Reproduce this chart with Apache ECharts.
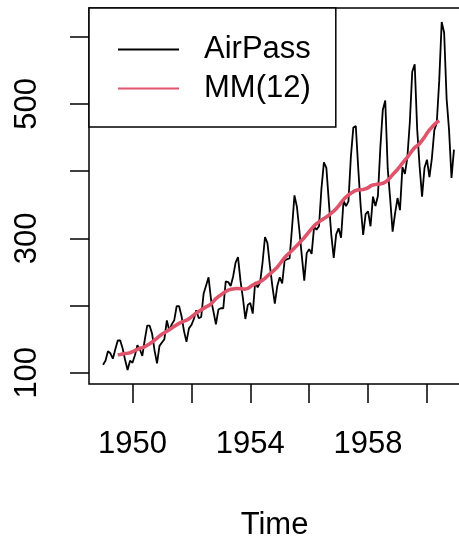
<!DOCTYPE html>
<html>
<head>
<meta charset="utf-8">
<script src="https://cdn.jsdelivr.net/npm/echarts@6/dist/echarts.min.js"></script>
<style>
  html, body { margin: 0; padding: 0; background: #fff; }
  #chart { width: 459px; height: 544px; }
</style>
</head>
<body>
<div id="chart"></div>
<script>
// Monthly airline passengers (thousands), Jan 1949 – Dec 1960
const startYear = 1949;
const airPass = [
  112, 118, 132, 129, 121, 135, 148, 148, 136, 119, 104, 118,
  115, 126, 141, 135, 125, 149, 170, 170, 158, 133, 114, 140,
  145, 150, 178, 163, 172, 178, 199, 199, 184, 162, 146, 166,
  171, 180, 193, 181, 183, 218, 230, 242, 209, 191, 172, 194,
  196, 196, 236, 235, 229, 243, 264, 272, 237, 211, 180, 201,
  204, 188, 235, 227, 234, 264, 302, 293, 259, 229, 203, 229,
  242, 233, 267, 269, 270, 315, 364, 347, 312, 274, 237, 278,
  284, 277, 317, 313, 318, 374, 413, 405, 355, 306, 271, 306,
  315, 301, 356, 348, 355, 422, 465, 467, 404, 347, 305, 336,
  340, 318, 362, 348, 363, 435, 491, 505, 404, 359, 310, 337,
  360, 342, 406, 396, 420, 472, 548, 559, 463, 407, 362, 405,
  417, 391, 419, 461, 472, 535, 622, 606, 508, 461, 390, 432
];

// Centred 12-month moving average, Jul 1949 – Jun 1960
const maStartIndex = 6;
const mm12 = [
  126.79, 127.25, 127.96, 128.58, 129.00, 129.75,
  131.25, 133.08, 134.92, 136.42, 137.42, 138.75, 140.92, 143.17, 145.71, 148.42, 151.54, 154.71,
  157.13, 159.54, 161.83, 164.13, 166.67, 169.08, 171.25, 173.58, 175.46, 176.83, 178.04, 180.17,
  183.13, 186.21, 189.04, 191.29, 193.58, 195.83, 198.04, 199.75, 202.21, 206.25, 210.42, 213.38,
  215.83, 218.50, 220.92, 222.92, 224.08, 224.71, 225.33, 225.33, 224.96, 224.58, 224.46, 225.54,
  228.00, 230.46, 232.25, 233.92, 235.63, 237.75, 240.50, 243.96, 247.17, 250.25, 253.50, 257.13,
  261.83, 266.67, 271.13, 275.21, 278.50, 281.96, 285.75, 289.33, 293.25, 297.17, 301.00, 305.46,
  309.96, 314.42, 318.63, 321.75, 324.50, 327.08, 329.54, 331.83, 334.46, 337.54, 340.54, 344.08,
  348.25, 353.00, 357.63, 361.38, 364.50, 367.17, 369.46, 371.21, 372.17, 372.42, 372.75, 373.63,
  375.25, 377.92, 379.50, 380.00, 380.71, 380.96, 381.83, 383.67, 386.50, 390.33, 394.71, 398.63,
  402.54, 407.17, 411.88, 416.33, 420.50, 425.50, 430.71, 435.13, 437.71, 440.96, 445.83, 450.63,
  456.33, 461.38, 465.21, 469.33, 472.75, 475.04
];

const xTicks = [1950, 1952, 1954, 1956, 1958, 1960];
const xTickLabels = [1950, 1954, 1958];
const yTicks = [100, 200, 300, 400, 500, 600];
const yTickLabels = [100, 300, 500];

const seriesNames = ['AirPass', 'MM(12)'];

// time stamp of the i-th month
const monthTime = i => startYear + i / 12;

const passPoints = airPass.map((v, i) => [monthTime(i), v]);
const maPoints = mm12.map((v, i) => [monthTime(i + maStartIndex), v]);

// axis limits padded by 4% of the data range on each side
const tFirst = monthTime(0), tLast = monthTime(airPass.length - 1);
const xPad = (tLast - tFirst) * 0.04;
const yMinV = Math.min(...airPass), yMaxV = Math.max(...airPass);
const yPad = (yMaxV - yMinV) * 0.04;

const font = 'Liberation Sans, Arial, sans-serif';

const chart = echarts.init(document.getElementById('chart'), null, { renderer: 'canvas' });
chart.setOption({
  animation: false,
  backgroundColor: '#ffffff',
  grid: {
    left: 89, width: 379, top: 8, height: 376,
    outerBoundsMode: 'none', containLabel: false,
    show: true, borderColor: '#000', borderWidth: 1.5, backgroundColor: 'transparent'
  },
  legend: {
    orient: 'vertical',
    left: 89, top: 8,
    data: seriesNames,
    itemWidth: 61, itemHeight: 20, itemGap: 8,
    padding: [26, 25, 23, 28],
    borderColor: '#000', borderWidth: 1.5,
    backgroundColor: '#fff',
    itemStyle: { opacity: 0 },
    textStyle: { fontFamily: font, fontSize: 31, color: '#000', padding: [0, 0, 0, 20] }
  },
  xAxis: {
    type: 'value',
    min: tFirst - xPad, max: tLast + xPad,
    name: 'Time', nameLocation: 'middle', nameGap: 126,
    nameTextStyle: { fontFamily: font, fontSize: 31, color: '#000', padding: [0, 8, 0, 0] },
    axisLine: { show: false },
    splitLine: { show: false },
    axisTick: { show: true, length: 19, lineStyle: { color: '#000', width: 1.5 }, customValues: xTicks },
    axisLabel: { fontFamily: font, fontSize: 31, color: '#000', margin: 45, customValues: xTickLabels, formatter: v => String(v) }
  },
  yAxis: {
    type: 'value',
    min: yMinV - yPad, max: yMaxV + yPad,
    axisLine: { show: false },
    splitLine: { show: false },
    axisTick: { show: true, length: 19, lineStyle: { color: '#000', width: 1.5 }, customValues: yTicks },
    axisLabel: { fontFamily: font, fontSize: 31, color: '#000', rotate: 90, margin: 46, customValues: yTickLabels, formatter: v => String(v) }
  },
  series: [
    {
      name: seriesNames[0], type: 'line', data: passPoints,
      symbol: 'none', showSymbol: false,
      lineStyle: { color: '#000', width: 1.8 }, itemStyle: { color: '#000' }
    },
    {
      name: seriesNames[1], type: 'line', data: maPoints,
      symbol: 'none', showSymbol: false,
      lineStyle: { color: '#DF536B', width: 3.6 }, itemStyle: { color: '#DF536B' }
    }
  ]
});
</script>
</body>
</html>
